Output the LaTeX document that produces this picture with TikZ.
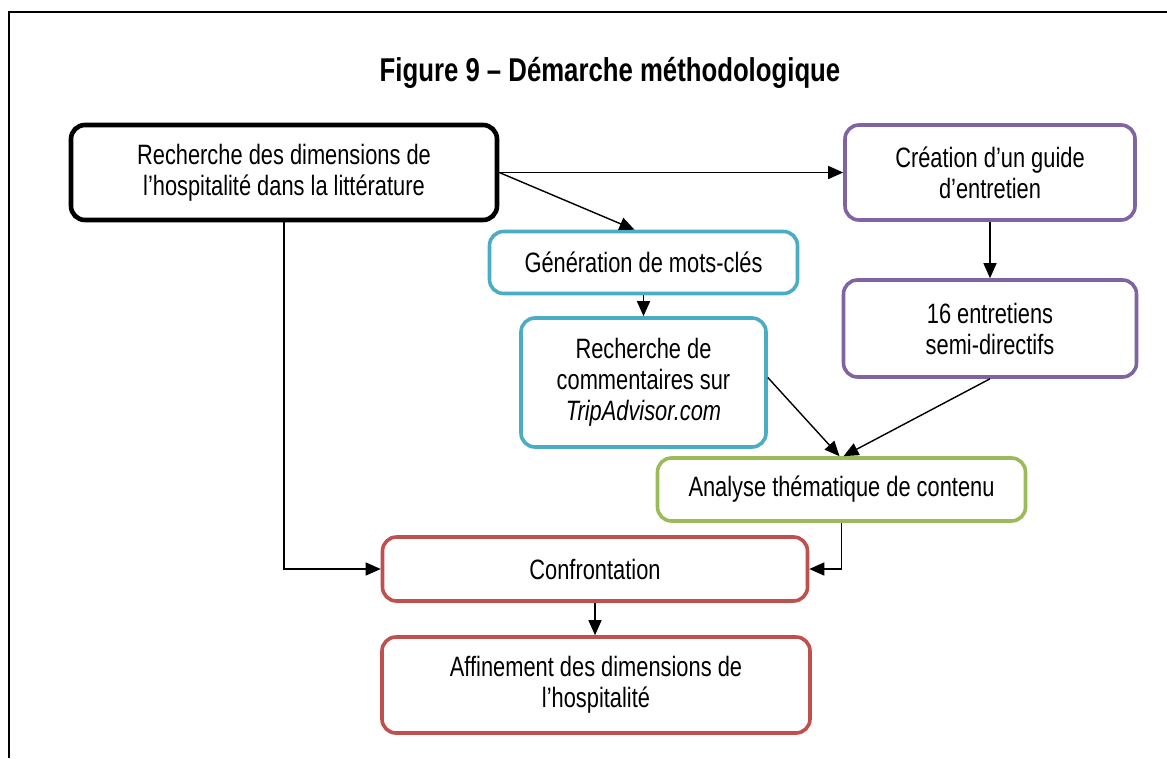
\documentclass[tikz,border=0pt]{standalone}
\usepackage{fontspec}
\setmainfont{Liberation Sans}[FakeStretch=0.78]
\usetikzlibrary{arrows.meta}
\definecolor{cblack}{RGB}{0,0,0}
\definecolor{cpurple}{RGB}{128,100,162}
\definecolor{cblue}{RGB}{75,172,198}
\definecolor{cgreen}{RGB}{155,187,89}
\definecolor{cred}{RGB}{192,80,77}
\tikzset{
  box/.style={draw, rounded corners=14pt, line width=3.6pt, align=center, inner sep=0pt,
    font=\fontsize{28}{31}\selectfont, fill=white},
  conn/.style={line width=1.4pt, -{Triangle[length=15pt,width=13pt]}},
}
\begin{document}
\begin{tikzpicture}[x=1pt,y=-1pt]
\useasboundingbox (0,0) rectangle (1167,758);
\draw[line width=1.4pt] (9,758) -- (9,12) -- (1167,12);
\node[font=\bfseries\fontsize{33}{36}\selectfont] (title) at (610,73) {Figure 9 – Démarche méthodologique};
\node[box, draw=cblack, line width=4.6pt, minimum width=426pt, minimum height=95pt] (A) at (284,172.5) {Recherche des dimensions de\\l’hospitalité dans la littérature};
\node[box, draw=cpurple, minimum width=290pt, minimum height=95pt] (B) at (990,172.5) {Création d’un guide\\d’entretien};
\node[box, draw=cblue, minimum width=308pt, minimum height=62pt] (C) at (643.5,262.5) {Génération de mots-clés};
\node[box, draw=cblue, minimum width=245pt, minimum height=129pt] (D) at (643.5,382.5) {Recherche de\\commentaires sur\\\textit{TripAdvisor.com}};
\node[box, draw=cpurple, minimum width=293pt, minimum height=97pt] (E) at (990,328.5) {16 entretiens\\semi-directifs};
\node[box, draw=cgreen, minimum width=368pt, minimum height=63pt] (F) at (841.5,489.5) {Analyse thématique de contenu};
\node[box, draw=cred, minimum width=425pt, minimum height=64pt] (G) at (595,569) {Confrontation};
\node[box, draw=cred, minimum width=428pt, minimum height=96pt] (H) at (596,685) {Affinement des dimensions de\\l’hospitalité};
\draw[conn] (A.east) -- (B.west);
\draw[conn] (A.east) -- ([xshift=-9pt]C.north);
\draw[conn] (A.south) |- (G.west);
\draw[conn] (B.south) -- (E.north);
\draw[conn] (C.south) -- (D.north);
\draw[conn] ([yshift=5pt]D.east) -- ([xshift=-2pt]F.north);
\draw[conn] (E.south) -- ([xshift=2pt]F.north);
\draw[conn] (F.south) |- (G.east);
\draw[conn] (G.south) -- (G.south |- H.north);
\end{tikzpicture}
\end{document}
